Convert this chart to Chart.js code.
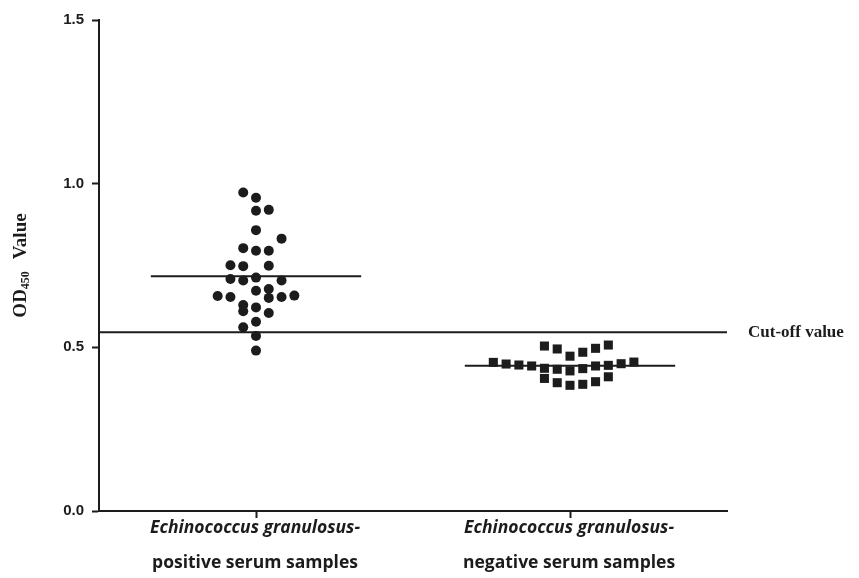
<!DOCTYPE html>
<html>
<head>
<meta charset="utf-8">
<script src="https://cdn.jsdelivr.net/npm/chart.js@4.4.0/dist/chart.umd.min.js"></script>
<style>
  html, body { margin: 0; padding: 0; background: #ffffff; }
  #wrap { width: 859px; height: 578px; }
</style>
</head>
<body>
<div id="wrap"><canvas id="c" width="859" height="578"></canvas></div>
<script>
// Group labels (two lines each: species name in italics, then sample type)
const categoryLines = [
  ["Echinococcus granulosus-", "positive serum samples"],
  ["Echinococcus granulosus-", "negative serum samples"]
];

// OD450 readings of the positive sera and the dot-column each one sits in
const positiveValues = [
  0.973, 0.957, 0.917, 0.920, 0.858, 0.832, 0.803, 0.795, 0.795, 0.751,
  0.748, 0.749, 0.709, 0.704, 0.713, 0.704, 0.673, 0.678, 0.657, 0.654,
  0.651, 0.654, 0.658, 0.629, 0.610, 0.622, 0.605, 0.578, 0.561, 0.535,
  0.490
];
const positiveColumns = [
  -1, 0, 0, 1, 0, 2, -1, 0, 1, -2,
  -1, 1, -2, -1, 0, 2, 0, 1, -3, -2,
  1, 2, 3, -1, -1, 0, 1, 0, -1, 0,
  0
];

// OD450 readings of the negative sera and their dot-columns
const negativeValues = [
  0.504, 0.495, 0.473, 0.485, 0.497, 0.507,
  0.454, 0.449, 0.446, 0.443, 0.436, 0.433, 0.428, 0.435, 0.443, 0.445, 0.450, 0.455,
  0.405, 0.392, 0.384, 0.387, 0.395, 0.410
];
const negativeColumns = [
  -2, -1, 0, 1, 2, 3,
  -6, -5, -4, -3, -2, -1, 0, 1, 2, 3, 4, 5,
  -2, -1, 0, 1, 2, 3
];

// Group means and the diagnostic threshold
const groupMeans = [0.717, 0.444];
const cutOffValue = 0.546;
const cutOffLabel = "Cut-off value";
const yTickValues = [0.0, 0.5, 1.0, 1.5];

const INK = '#1c1c1c';
const COLUMN_STEP = 0.0407;   // horizontal spacing between stacked dots (x units)
const MEAN_HALF = 0.335;      // half length of a mean bar (x units)

const toPoints = (vals, cols, center) =>
  vals.map((v, i) => ({ x: center + cols[i] * COLUMN_STEP, y: v }));

const meanLine = (i) => [
  { x: i + 1 - MEAN_HALF, y: groupMeans[i] },
  { x: i + 1 + MEAN_HALF, y: groupMeans[i] }
];

const labelsPlugin = {
  id: 'labels',
  afterDraw(chart) {
    const ctx = chart.ctx;
    const xs = chart.scales.x;
    const ys = chart.scales.y;
    ctx.save();
    ctx.fillStyle = INK;

    // category labels under the x axis
    ctx.textAlign = 'center';
    ctx.textBaseline = 'middle';
    categoryLines.forEach((lines, i) => {
      const cx = xs.getPixelForValue(i + 1);
      ctx.font = 'italic bold 17.5px "Open Sans"';
      ctx.fillText(lines[0], cx - 1, 528);
      ctx.font = 'bold 17.5px "Open Sans"';
      ctx.fillText(lines[1], cx - 1, 563);
    });

    // cut-off label to the right of the threshold line
    ctx.textAlign = 'left';
    ctx.font = 'bold 17px "Liberation Serif"';
    ctx.fillText(cutOffLabel, xs.right + 21, ys.getPixelForValue(cutOffValue));

    // rotated y-axis title with subscript
    const cy = (ys.top + ys.bottom) / 2;
    ctx.translate(20, cy);
    ctx.rotate(-Math.PI / 2);
    const big = 'bold 19px "Liberation Serif"';
    const small = 'bold 12px "Liberation Serif"';
    ctx.font = big;
    const wOD = ctx.measureText('OD').width;
    const wVal = ctx.measureText('Value').width;
    ctx.font = small;
    const wSub = ctx.measureText('450').width;
    const gap = 12;
    const total = wOD + wSub + gap + wVal;
    let x0 = -total / 2;
    ctx.textBaseline = 'alphabetic';
    ctx.font = big;
    ctx.fillText('OD', x0, 6);
    x0 += wOD;
    ctx.font = small;
    ctx.fillText('450', x0, 9);
    x0 += wSub + gap;
    ctx.font = big;
    ctx.fillText('Value', x0, 6);
    ctx.restore();
  }
};

new Chart(document.getElementById('c'), {
  type: 'scatter',
  data: {
    datasets: [
      {
        data: [{ x: 0.5, y: cutOffValue }, { x: 2.5, y: cutOffValue }],
        showLine: true, borderColor: INK, borderWidth: 2, pointRadius: 0
      },
      {
        data: meanLine(0),
        showLine: true, borderColor: INK, borderWidth: 2, pointRadius: 0
      },
      {
        data: meanLine(1),
        showLine: true, borderColor: INK, borderWidth: 2, pointRadius: 0
      },
      {
        data: toPoints(positiveValues, positiveColumns, 1),
        pointStyle: 'circle', pointRadius: 5,
        backgroundColor: INK, borderColor: INK, borderWidth: 0
      },
      {
        data: toPoints(negativeValues, negativeColumns, 2),
        pointStyle: 'rect', pointRadius: 6.4,
        backgroundColor: INK, borderColor: INK, borderWidth: 0
      }
    ]
  },
  options: {
    responsive: false,
    animation: false,
    devicePixelRatio: 1,
    layout: { padding: { top: 20, right: 132, left: 0, bottom: 0 } },
    plugins: { legend: { display: false }, tooltip: { enabled: false } },
    events: [],
    scales: {
      x: {
        type: 'linear', min: 0.5, max: 2.5,
        afterBuildTicks: (s) => { s.ticks = [{ value: 1 }, { value: 2 }]; },
        afterFit: (s) => { s.height = 67; },
        ticks: { display: false },
        grid: { drawOnChartArea: false, drawTicks: true, tickLength: 7, tickWidth: 2, tickColor: INK },
        border: { display: true, color: INK, width: 2 }
      },
      y: {
        type: 'linear', min: 0, max: 1.5,
        afterBuildTicks: (s) => { s.ticks = yTickValues.map(v => ({ value: v })); },
        afterFit: (s) => { s.width = 99; },
        ticks: {
          padding: 8, color: INK,
          font: { family: '"Liberation Sans"', size: 15, weight: 'bold' },
          callback: (v) => Number(v).toFixed(1)
        },
        grid: { drawOnChartArea: false, drawTicks: true, tickLength: 7, tickWidth: 2, tickColor: INK },
        border: { display: true, color: INK, width: 2 }
      }
    }
  },
  plugins: [labelsPlugin]
});
</script>
</body>
</html>
